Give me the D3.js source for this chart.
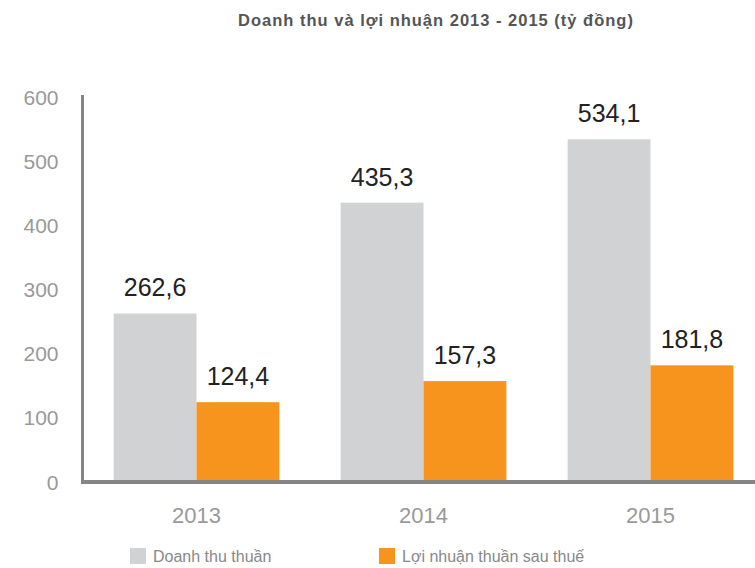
<!DOCTYPE html>
<html>
<head>
<meta charset="utf-8">
<script src="https://cdn.jsdelivr.net/npm/d3@7"></script>
<style>
  body { margin: 0; background: #fff; }
  svg { display: block; font-family: "Liberation Sans", Arial, Helvetica, sans-serif; }
</style>
</head>
<body>
<div id="chart"></div>
<script>
// data
let years = ['2013', '2014', '2015'];
let seriesNames = ['Doanh thu thuần', 'Lợi nhuận thuần sau thuế'];
let revenue = [262.6, 435.3, 534.1];
let profit = [124.4, 157.3, 181.8];
let yTicks = [0, 100, 200, 300, 400, 500, 600];
let colors = ['#d1d2d4', '#f7941d'];

// svg size
let svgWidth = 755;
let svgHeight = 568;

let svg = d3.select('#chart')
  .append('svg')
  .attr('width', svgWidth)
  .attr('height', svgHeight);

// scales
let yScale = d3.scaleLinear()
  .domain([0, 600])
  .range([482, 97]);

let xScale = d3.scaleBand()
  .domain(years)
  .range([83, 764])
  .paddingInner(0.27)
  .paddingOuter(0.135);

let xSub = d3.scaleBand()
  .domain(seriesNames)
  .range([0, xScale.bandwidth()]);

// table built from the arrays
let rows = years.map((y, i) => ({year: y, values: [revenue[i], profit[i]]}));

// title
svg.append('text')
  .attr('x', 436)
  .attr('y', 26)
  .attr('text-anchor', 'middle')
  .attr('font-size', '16.5px')
  .attr('letter-spacing', '1px')
  .attr('font-weight', 'bold')
  .attr('fill', '#555')
  .text('Doanh thu và lợi nhuận 2013 - 2015 (tỷ đồng)');

// bars
let groups = svg.selectAll('.year')
  .data(rows)
  .enter()
  .append('g')
  .attr('transform', d => `translate(${xScale(d.year)},0)`);

groups.selectAll('rect')
  .data(d => d.values.map((v, i) => ({name: seriesNames[i], value: v, idx: i})))
  .enter()
  .append('rect')
  .attr('x', d => xSub(d.name))
  .attr('width', xSub.bandwidth())
  .attr('y', d => yScale(d.value))
  .attr('height', d => yScale(0) - yScale(d.value))
  .attr('fill', d => colors[d.idx]);

// value labels
groups.selectAll('.val')
  .data(d => d.values.map((v, i) => ({name: seriesNames[i], value: v})))
  .enter()
  .append('text')
  .attr('x', d => xSub(d.name) + xSub.bandwidth() / 2)
  .attr('y', d => yScale(d.value) - 17)
  .attr('text-anchor', 'middle')
  .attr('font-size', '25px')
  .attr('fill', '#222')
  .text(d => d.value.toFixed(1).replace('.', ','));

// y axis
let yAxis = svg.append('g')
  .attr('transform', 'translate(82.5,0)')
  .call(d3.axisLeft(yScale).tickValues(yTicks).tickSize(0).tickPadding(24));
yAxis.select('.domain').remove();
yAxis.selectAll('text')
  .attr('font-size', '21px')
  .attr('fill', '#999')
  .attr('dy', '0.34em');

svg.append('line')
  .attr('x1', 82.5).attr('x2', 82.5)
  .attr('y1', 95).attr('y2', 482)
  .attr('stroke', '#858585')
  .attr('stroke-width', 3);

// x axis
let xAxis = svg.append('g')
  .attr('transform', 'translate(0,482)')
  .call(d3.axisBottom(xScale).tickSize(0).tickPadding(25));
xAxis.select('.domain').remove();
xAxis.selectAll('text')
  .attr('font-size', '22px')
  .attr('fill', '#999');

svg.append('line')
  .attr('x1', 81).attr('x2', 755)
  .attr('y1', 482).attr('y2', 482)
  .attr('stroke', '#858585')
  .attr('stroke-width', 4);

// legend
let legendX = [130, 379];
let legend = svg.selectAll('.legend')
  .data(seriesNames)
  .enter()
  .append('g')
  .attr('transform', (d, i) => `translate(${legendX[i]},548)`);

legend.append('rect')
  .attr('width', 16)
  .attr('height', 16)
  .attr('fill', (d, i) => colors[i]);

legend.append('text')
  .attr('x', 23)
  .attr('y', 14)
  .attr('font-size', '16px')
  .attr('fill', '#888')
  .text(d => d);
</script>
</body>
</html>
